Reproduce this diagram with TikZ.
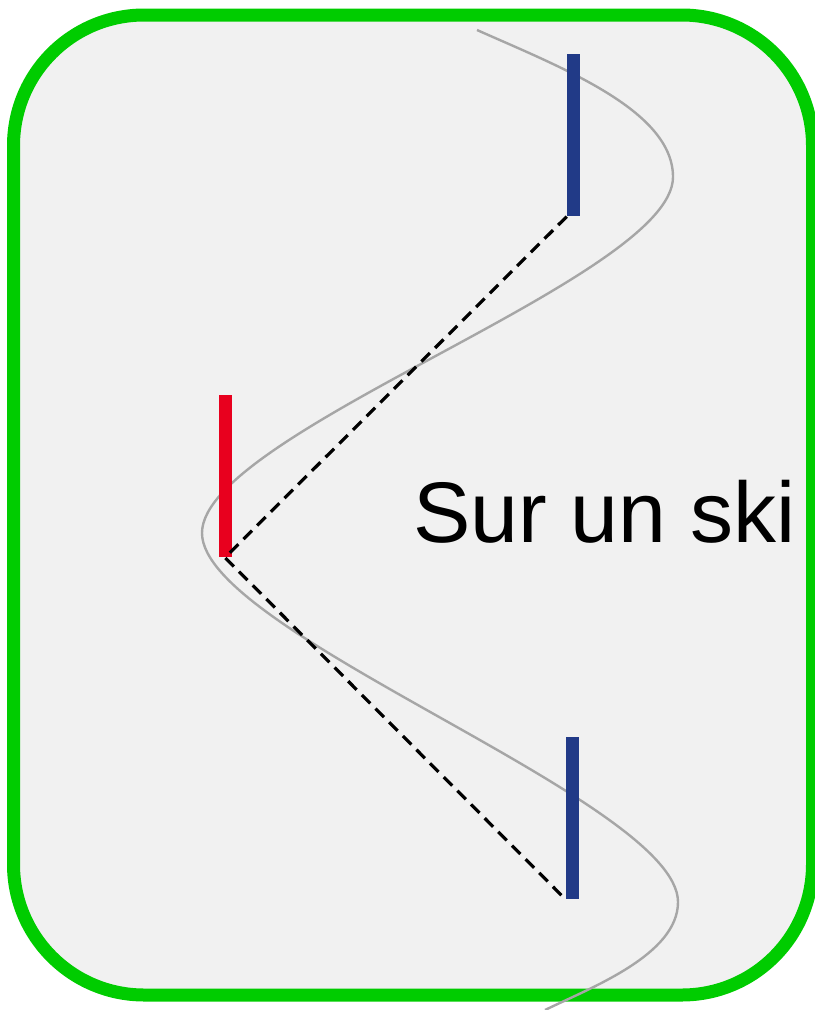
\documentclass[tikz,border=0pt]{standalone}
\usepackage{fontspec}
\setmainfont{Liberation Sans}
\usetikzlibrary{positioning}
\definecolor{skgreen}{HTML}{00CC00}
\definecolor{skfill}{HTML}{F1F1F1}
\definecolor{skblue}{HTML}{213A87}
\definecolor{skred}{HTML}{E8001E}
\definecolor{skgray}{HTML}{A6A6A6}
\begin{document}
\begin{tikzpicture}[x=0.75pt,y=-0.75pt,
    pole/.style={inner sep=0pt,minimum width=9.75pt,minimum height=121.5pt,anchor=north},
    track/.style={draw=skgray,line width=1.8pt},
    d/.style={black,line width=2.4pt,dash pattern=on 9pt off 5.5pt}]
    \useasboundingbox (0,0) rectangle (814,1010);
    \draw[skgreen,fill=skfill,line width=9.75pt,rounded corners=98pt] (13.5,15) rectangle (812.5,995);
    \draw[track] (477,30) .. controls (560,67) and (673,110) .. (673,177)
      .. controls (673,278) and (202,432) .. (202,533)
      .. controls (202,634) and (678,801) .. (678,902)
      .. controls (678,955) and (590,988) .. (545,1010);
    \node[pole,fill=skblue] (t) at (573.5,54) {};
    \node[pole,fill=skred] (r) at (225,395) {};
    \node[pole,fill=skblue] (b) at (572.5,737) {};
    \draw[d] (t.south west) -- (r.south) -- (b.south west);
    \node[anchor=base west,inner sep=0pt,font=\fontsize{64.5pt}{72pt}\selectfont] (lbl) at (413,542) {Sur un ski};
  \end{tikzpicture}
\end{document}
